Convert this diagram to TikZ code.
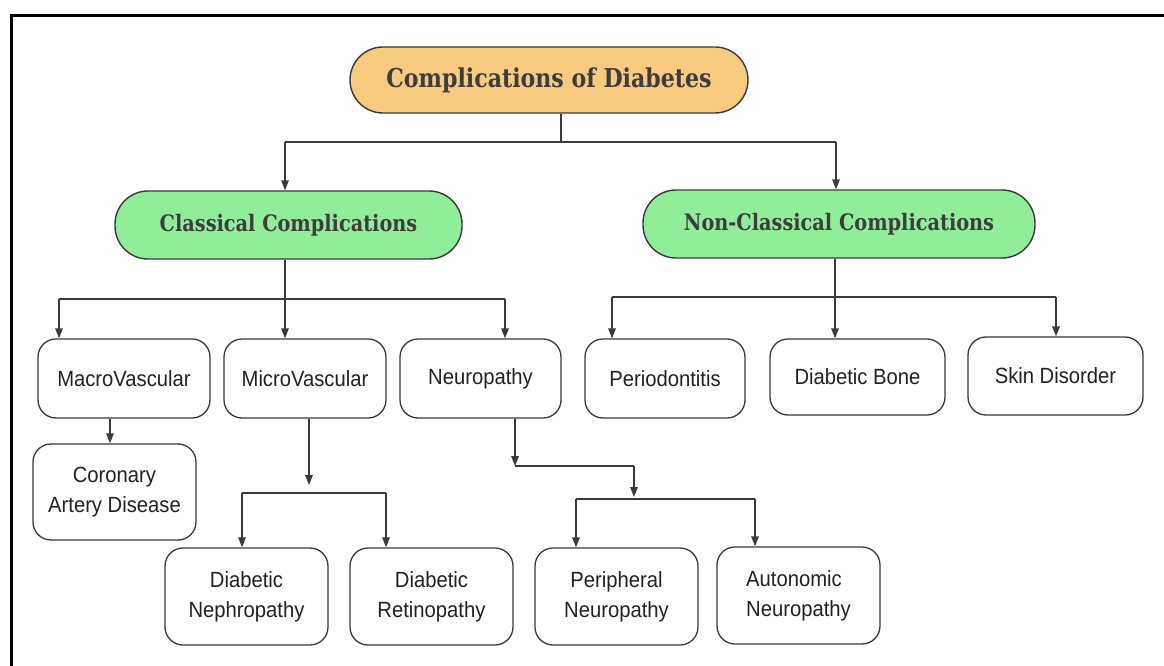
\documentclass[tikz,border=0pt]{standalone}
\usepackage{fontspec}
\setmainfont{Liberation Sans}[FakeStretch=0.92]
\newfontfamily\slabfont{DejaVu Serif}[FakeStretch=0.85]
\usetikzlibrary{arrows.meta}

\definecolor{orangefill}{HTML}{F8CA80}
\definecolor{greenfill}{HTML}{90EE98}
\definecolor{edgegray}{HTML}{3A3A3A}
\definecolor{headtext}{HTML}{3D3D3D}
\definecolor{bodytext}{HTML}{222222}

\tikzset{
  pill/.style={draw=edgegray, line width=1.4pt, rounded corners=33pt, inner sep=0pt,
    text=headtext, font=\slabfont\bfseries\fontsize{26}{30}\selectfont},
  subpill/.style={pill, fill=greenfill, font=\slabfont\bfseries\fontsize{22.7}{26}\selectfont},
  itembox/.style={draw=edgegray, line width=1.3pt, rounded corners=18pt, inner sep=0pt,
    fill=white, text=bodytext, align=center, font=\fontsize{22}{30}\selectfont},
  link/.style={draw=edgegray, line width=1.4pt},
  arr/.style={link, -{Triangle[length=10pt,width=7.5pt]}}
}

\begin{document}
\begin{tikzpicture}[x=1pt, y=-1pt]
  \useasboundingbox (0,0) rectangle (1164,666);
  \fill[white] (0,0) rectangle (1164,666);

  % outer frame (top and left edges)
  \draw[line width=3pt, black] (11,666) -- (11,16) -- (1164,16);

  % headings
  \node[pill, fill=orangefill, minimum width=398pt, minimum height=66pt] (top) at (549,80) {Complications of Diabetes};
  \node[subpill, minimum width=347pt, minimum height=68pt] (cls) at (288.5,225) {Classical Complications};
  \node[subpill, minimum width=392pt, minimum height=68pt] (ncls) at (839,224) {Non-Classical Complications};

  % second level
  \node[itembox, minimum width=172pt, minimum height=79pt] (macro) at (124,378.5) {MacroVascular};
  \node[itembox, minimum width=162pt, minimum height=79pt] (micro) at (305,378.5) {MicroVascular};
  \node[itembox, minimum width=161pt, minimum height=79pt] (neuro) at (480.5,378.5) {Neuropathy};
  \node[itembox, minimum width=160pt, minimum height=79pt] (perio) at (665,378.5) {Periodontitis};
  \node[itembox, minimum width=175pt, minimum height=76pt] (bone) at (857.5,377) {Diabetic Bone};
  \node[itembox, minimum width=175pt, minimum height=78pt] (skin) at (1055.5,376) {Skin Disorder};

  % third level
  \node[itembox, minimum width=163pt, minimum height=96pt] (coronary) at (114.5,492) {Coronary\\Artery Disease};
  \node[itembox, minimum width=163pt, minimum height=97pt] (neph) at (246.5,596.5) {Diabetic\\Nephropathy};
  \node[itembox, minimum width=163pt, minimum height=97pt] (retin) at (431.5,596.5) {Diabetic\\Retinopathy};
  \node[itembox, minimum width=163pt, minimum height=97pt] (periph) at (616.5,596.5) {Peripheral\\Neuropathy};
  \node[itembox, minimum width=163pt, minimum height=97pt, align=left] (auto) at (798.5,595.5) {Autonomic\\Neuropathy};

  % top split
  \coordinate (tj) at (561,142);
  \coordinate (bL) at (285,142);
  \coordinate (bR) at (836,142);
  \draw[link] (top.south -| tj) -- (tj);
  \draw[link] (bL) -- (bR);
  \draw[arr] (bL) -- (bL |- cls.north);
  \draw[arr] (bR) -- (bR |- ncls.north);

  % classical split
  \coordinate (cj) at (285,299);
  \coordinate (c1) at (59,299);
  \coordinate (c3) at (505,299);
  \draw[link] (cls.south -| cj) -- (cj);
  \draw[link] (c1) -- (c3);
  \draw[arr] (c1) -- (c1 |- macro.north);
  \draw[arr] (cj) -- (cj |- micro.north);
  \draw[arr] (c3) -- (c3 |- neuro.north);

  % non-classical split
  \coordinate (nj) at (835,297);
  \coordinate (n1) at (612,297);
  \coordinate (n3) at (1056,297);
  \draw[link] (ncls.south -| nj) -- (nj);
  \draw[link] (n1) -- (n3);
  \draw[arr] (n1) -- (n1 |- perio.north);
  \draw[arr] (nj) -- (nj |- bone.north);
  \draw[arr] (n3) -- (n3 |- skin.north);

  % macrovascular branch
  \coordinate (mc) at (110,0);
  \draw[arr] (macro.south -| mc) -- (coronary.north -| mc);

  % microvascular branch
  \coordinate (ms) at (309,485);
  \coordinate (m1) at (242,493);
  \coordinate (m2) at (386,493);
  \draw[arr] (micro.south -| ms) -- (ms);
  \draw[link] (m1) -- (m2);
  \draw[arr] (m1) -- (m1 |- neph.north);
  \draw[arr] (m2) -- (m2 |- retin.north);

  % neuropathy branch
  \coordinate (ns) at (515,466);
  \coordinate (nk) at (634,466);
  \coordinate (nd) at (634,497);
  \coordinate (p1) at (576,499);
  \coordinate (p2) at (755,499);
  \draw[arr] (neuro.south -| ns) -- (ns);
  \draw[link] (ns) -- (nk);
  \draw[arr] (nk) -- (nd);
  \draw[link] (p1) -- (p2);
  \draw[arr] (p1) -- (p1 |- periph.north);
  \draw[arr] (p2) -- (p2 |- auto.north);
\end{tikzpicture}
\end{document}
